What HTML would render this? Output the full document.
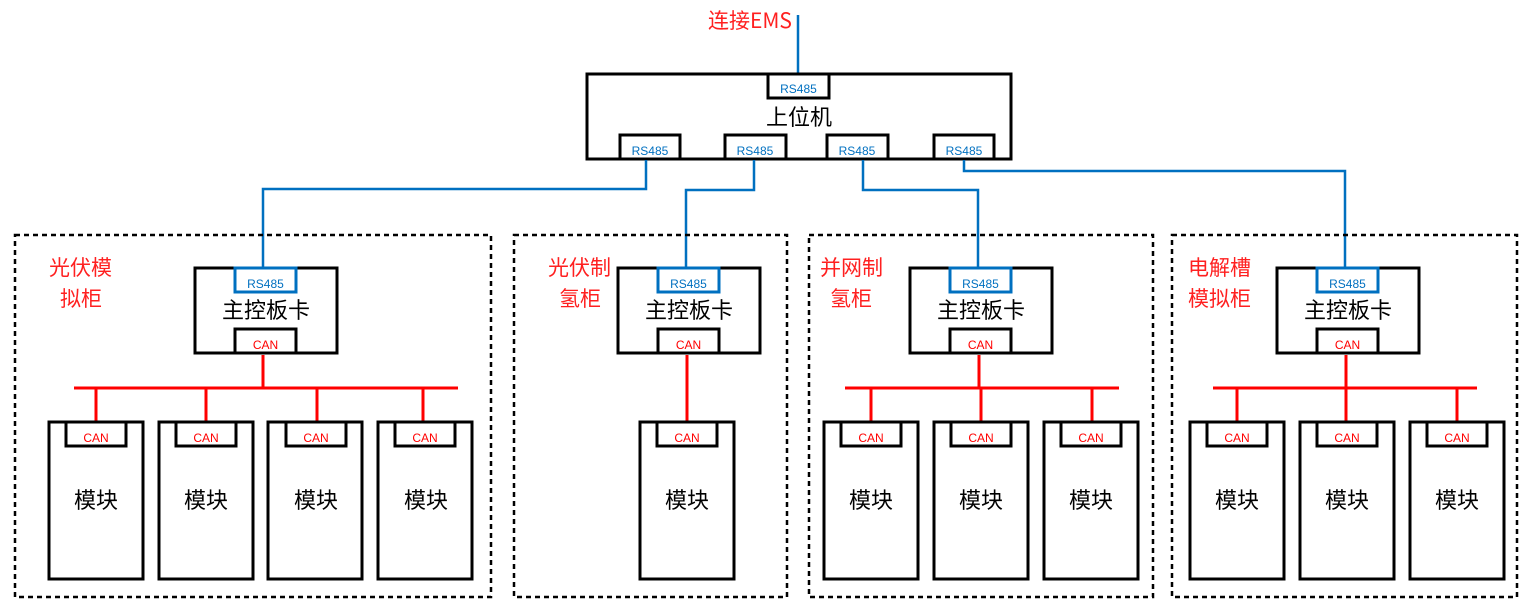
<!DOCTYPE html>
<html><head><meta charset="utf-8"><style>
html,body{margin:0;padding:0;background:#fff;}
svg{display:block;}
text{font-family:"Liberation Sans","Noto Sans CJK SC",sans-serif;}
.cjk{font-family:"Noto Sans CJK SC","Liberation Sans",sans-serif;}
.b{fill:#fff;stroke:#000;stroke-width:3;}
.d{fill:none;stroke:#000;stroke-width:2.5;stroke-dasharray:5,4;}
.bl{fill:none;stroke:#0070c0;stroke-width:2.5;}
.rd{fill:none;stroke:#ff0000;stroke-width:3;}
.rsb{fill:#fff;stroke:#0070c0;stroke-width:3;}
.rs{fill:#0070c0;font-size:12px;}
.can{fill:#ff0000;font-size:12px;}
.big{fill:#000;font-size:22px;}
.lab{fill:#ff2020;font-size:21px;}
</style></head><body>
<svg width="1522" height="607" viewBox="0 0 1522 607" xmlns="http://www.w3.org/2000/svg">
<!-- top -->
<text x="708" y="28" class="cjk" style="fill:#ff2020;font-size:21px">连接EMS</text>
<line x1="798" y1="15" x2="798" y2="74" class="bl"/>
<rect x="587" y="74" width="424" height="85" class="b"/>
<rect x="768" y="74" width="61" height="24" class="b"/>
<text x="798.5" y="93" text-anchor="middle" class="rs">RS485</text>
<text x="799" y="125" text-anchor="middle" class="big cjk">上位机</text>
<rect x="620" y="135" width="60" height="24" class="b"/><text x="650" y="155" text-anchor="middle" class="rs">RS485</text>
<rect x="725" y="135" width="61" height="24" class="b"/><text x="755" y="155" text-anchor="middle" class="rs">RS485</text>
<rect x="827" y="135" width="61" height="24" class="b"/><text x="857" y="155" text-anchor="middle" class="rs">RS485</text>
<rect x="934" y="135" width="60" height="24" class="b"/><text x="964" y="155" text-anchor="middle" class="rs">RS485</text>
<!-- blue wires -->
<polyline points="646,160 646,189 263,189 263,268" class="bl"/>
<polyline points="754,160 754,190 686,190 686,268" class="bl"/>
<polyline points="863,160 863,190 978,190 978,268" class="bl"/>
<polyline points="964,160 964,171 1345,171 1345,268" class="bl"/>
<!-- panels -->
<rect x="15" y="235" width="476" height="362" class="d"/>
<rect x="514" y="235" width="273" height="362" class="d"/>
<rect x="809" y="235" width="344" height="362" class="d"/>
<rect x="1172" y="235" width="345" height="362" class="d"/>
<text x="49" y="275" class="lab cjk">光伏模</text><text x="60" y="306" class="lab cjk">拟柜</text>
<text x="548" y="275" class="lab cjk">光伏制</text><text x="559" y="306" class="lab cjk">氢柜</text>
<text x="820" y="275" class="lab cjk">并网制</text><text x="830" y="306" class="lab cjk">氢柜</text>
<text x="1188" y="275" class="lab cjk">电解槽</text><text x="1188" y="306" class="lab cjk">模拟柜</text>
<!-- controllers -->
<g>
<rect x="195" y="268" width="142" height="85" class="b"/>
<rect x="235" y="268" width="61" height="24" class="rsb"/><text x="265.5" y="288" text-anchor="middle" class="rs">RS485</text>
<text x="266" y="318" text-anchor="middle" class="big cjk">主控板卡</text>
<rect x="235" y="329" width="61" height="24" class="b"/><text x="265.5" y="349" text-anchor="middle" class="can">CAN</text>
</g>
<g>
<rect x="618" y="268" width="142" height="85" class="b"/>
<rect x="658" y="268" width="61" height="24" class="rsb"/><text x="688.5" y="288" text-anchor="middle" class="rs">RS485</text>
<text x="689" y="318" text-anchor="middle" class="big cjk">主控板卡</text>
<rect x="658" y="329" width="61" height="24" class="b"/><text x="688.5" y="349" text-anchor="middle" class="can">CAN</text>
</g>
<g>
<rect x="910" y="268" width="142" height="85" class="b"/>
<rect x="950" y="268" width="61" height="24" class="rsb"/><text x="980.5" y="288" text-anchor="middle" class="rs">RS485</text>
<text x="981" y="318" text-anchor="middle" class="big cjk">主控板卡</text>
<rect x="950" y="329" width="61" height="24" class="b"/><text x="980.5" y="349" text-anchor="middle" class="can">CAN</text>
</g>
<g>
<rect x="1277" y="268" width="142" height="85" class="b"/>
<rect x="1317" y="268" width="61" height="24" class="rsb"/><text x="1347.5" y="288" text-anchor="middle" class="rs">RS485</text>
<text x="1348" y="318" text-anchor="middle" class="big cjk">主控板卡</text>
<rect x="1317" y="329" width="61" height="24" class="b"/><text x="1347.5" y="349" text-anchor="middle" class="can">CAN</text>
</g>
<!-- buses -->
<line x1="263" y1="355" x2="263" y2="388" class="rd"/>
<line x1="74" y1="388" x2="458" y2="388" class="rd"/>
<line x1="96" y1="388" x2="96" y2="422" class="rd"/>
<line x1="206" y1="388" x2="206" y2="422" class="rd"/>
<line x1="317" y1="388" x2="317" y2="422" class="rd"/>
<line x1="423" y1="388" x2="423" y2="422" class="rd"/>
<line x1="687" y1="355" x2="687" y2="422" class="rd"/>
<line x1="979" y1="355" x2="979" y2="388" class="rd"/>
<line x1="845" y1="388" x2="1119" y2="388" class="rd"/>
<line x1="871" y1="388" x2="871" y2="422" class="rd"/>
<line x1="981" y1="388" x2="981" y2="422" class="rd"/>
<line x1="1092" y1="388" x2="1092" y2="422" class="rd"/>
<line x1="1346" y1="355" x2="1346" y2="388" class="rd"/>
<line x1="1213" y1="388" x2="1477" y2="388" class="rd"/>
<line x1="1237" y1="388" x2="1237" y2="422" class="rd"/>
<line x1="1346" y1="388" x2="1346" y2="422" class="rd"/>
<line x1="1457" y1="388" x2="1457" y2="422" class="rd"/>
<!-- modules -->
<g>
<rect x="49" y="422" width="94" height="157" class="b"/><rect x="66" y="422" width="60" height="24" class="b"/><text x="96" y="442" text-anchor="middle" class="can">CAN</text><text x="96" y="508" text-anchor="middle" class="big cjk">模块</text>
<rect x="159" y="422" width="94" height="157" class="b"/><rect x="176" y="422" width="60" height="24" class="b"/><text x="206" y="442" text-anchor="middle" class="can">CAN</text><text x="206" y="508" text-anchor="middle" class="big cjk">模块</text>
<rect x="268" y="422" width="94" height="157" class="b"/><rect x="286" y="422" width="60" height="24" class="b"/><text x="316" y="442" text-anchor="middle" class="can">CAN</text><text x="316" y="508" text-anchor="middle" class="big cjk">模块</text>
<rect x="378" y="422" width="94" height="157" class="b"/><rect x="395" y="422" width="60" height="24" class="b"/><text x="425" y="442" text-anchor="middle" class="can">CAN</text><text x="426" y="508" text-anchor="middle" class="big cjk">模块</text>
<rect x="640" y="422" width="94" height="157" class="b"/><rect x="657" y="422" width="60" height="24" class="b"/><text x="687" y="442" text-anchor="middle" class="can">CAN</text><text x="687" y="508" text-anchor="middle" class="big cjk">模块</text>
<rect x="824" y="422" width="94" height="157" class="b"/><rect x="841" y="422" width="60" height="24" class="b"/><text x="871" y="442" text-anchor="middle" class="can">CAN</text><text x="871" y="508" text-anchor="middle" class="big cjk">模块</text>
<rect x="934" y="422" width="94" height="157" class="b"/><rect x="951" y="422" width="60" height="24" class="b"/><text x="981" y="442" text-anchor="middle" class="can">CAN</text><text x="981" y="508" text-anchor="middle" class="big cjk">模块</text>
<rect x="1044" y="422" width="94" height="157" class="b"/><rect x="1061" y="422" width="60" height="24" class="b"/><text x="1091" y="442" text-anchor="middle" class="can">CAN</text><text x="1091" y="508" text-anchor="middle" class="big cjk">模块</text>
<rect x="1190" y="422" width="94" height="157" class="b"/><rect x="1207" y="422" width="60" height="24" class="b"/><text x="1237" y="442" text-anchor="middle" class="can">CAN</text><text x="1237" y="508" text-anchor="middle" class="big cjk">模块</text>
<rect x="1300" y="422" width="94" height="157" class="b"/><rect x="1317" y="422" width="60" height="24" class="b"/><text x="1347" y="442" text-anchor="middle" class="can">CAN</text><text x="1347" y="508" text-anchor="middle" class="big cjk">模块</text>
<rect x="1410" y="422" width="94" height="157" class="b"/><rect x="1427" y="422" width="60" height="24" class="b"/><text x="1457" y="442" text-anchor="middle" class="can">CAN</text><text x="1457" y="508" text-anchor="middle" class="big cjk">模块</text>
</g>
</svg>
</body></html>
